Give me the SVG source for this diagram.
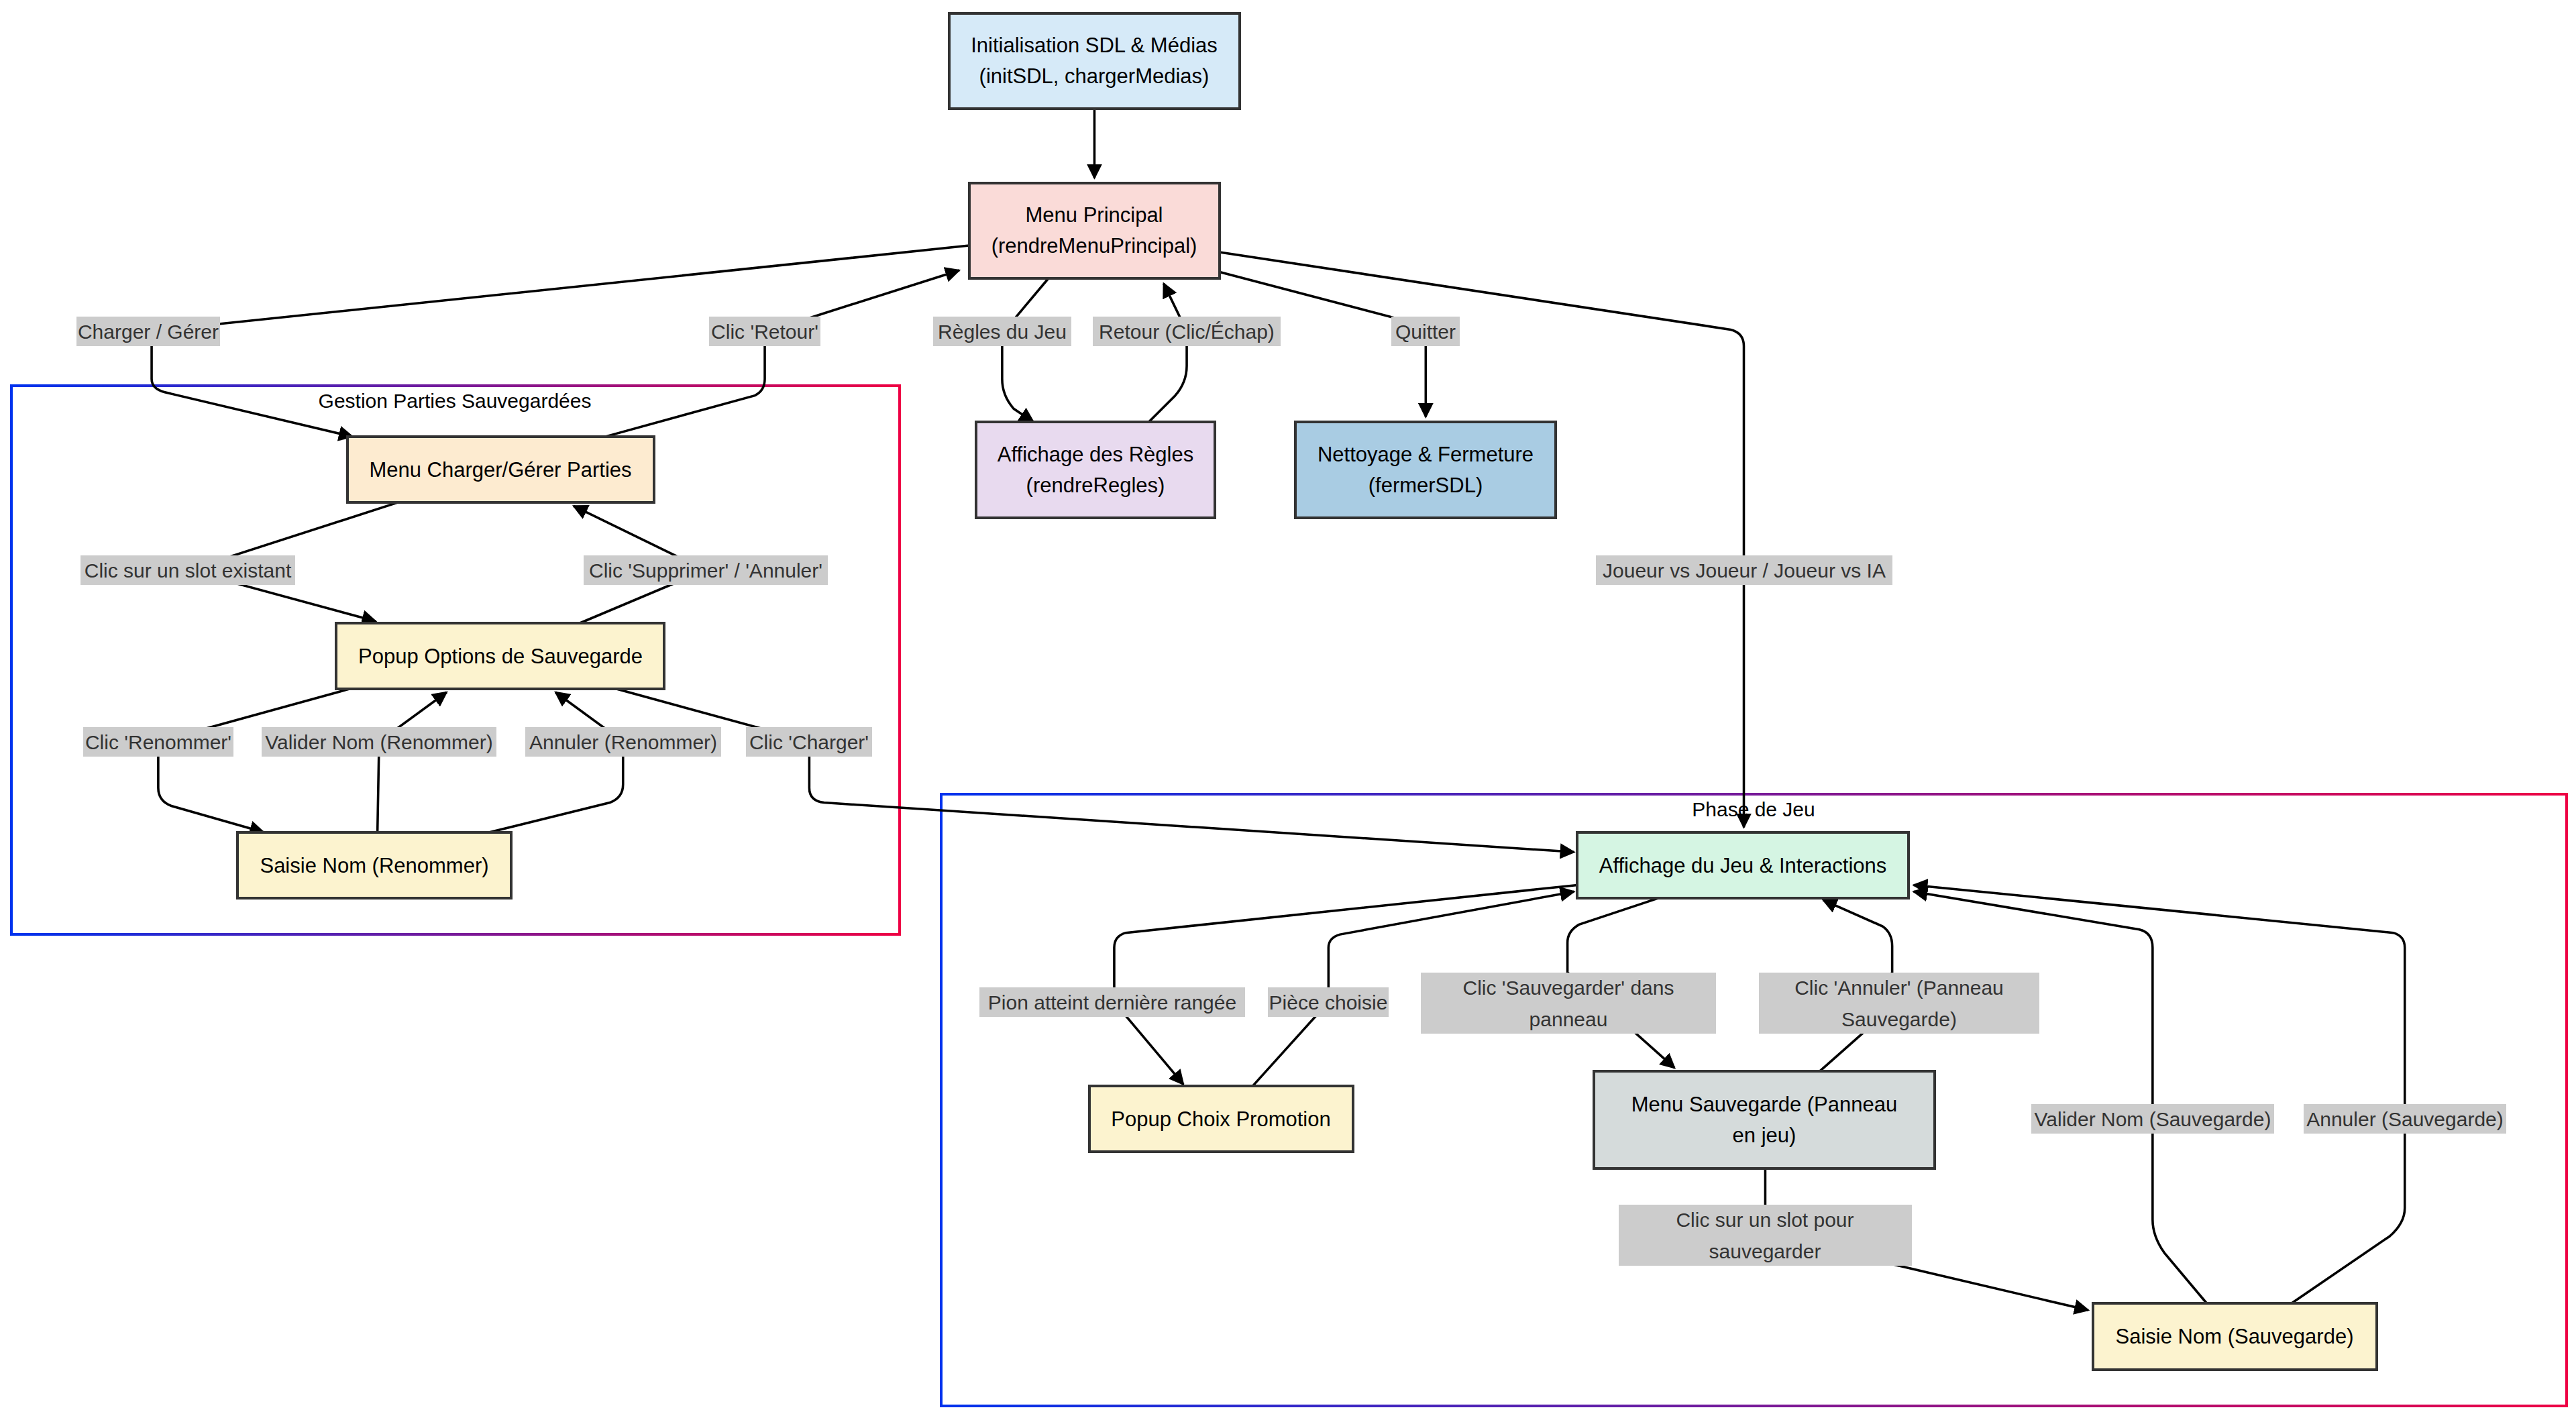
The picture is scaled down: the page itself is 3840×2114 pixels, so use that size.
<svg xmlns="http://www.w3.org/2000/svg" width="3840" height="2114" viewBox="0 0 3840 2114">
<style>
.n{stroke:#333;stroke-width:4}
.t{font-family:"Liberation Sans",Arial,sans-serif;font-size:31px;fill:#000;text-anchor:middle;dominant-baseline:central}
.l{font-family:"Liberation Sans",Arial,sans-serif;font-size:30px;fill:#333;text-anchor:middle;dominant-baseline:central}
.lb{fill:#cccccc}
.e{fill:none;stroke:#000;stroke-width:1.45}
.c{fill:none;stroke:url(#g);stroke-width:4}
</style>
<defs>
<linearGradient id="g" x1="0" y1="0" x2="1" y2="0"><stop offset="0" stop-color="#0033ee"/><stop offset="1" stop-color="#ee0044"/></linearGradient>
<marker id="a" viewBox="0 0 10 10" refX="9" refY="5" markerWidth="6.5" markerHeight="6.5" orient="auto"><path d="M0,0 L10,5 L0,10 z" fill="#000"/></marker>
</defs>
<rect width="3840" height="2114" fill="#fff"/>
<g id="clusters">
<rect class="c" x="17" y="575" width="1324" height="818"/>
<text class="t" x="678" y="597" style="font-size:30px">Gestion Parties Sauvegardées</text>
<rect class="c" x="1403" y="1184" width="2423" height="912"/>
<text class="t" x="2614" y="1206" style="font-size:30px">Phase de Jeu</text>
</g>
<g id="connectors" transform="scale(2.457)">
<path class="e" marker-end="url(#a)" d="M664,66 L664,108"/>
<path class="e" marker-end="url(#a)" d="M588,149 L100,200 Q92,201 92,209 L92,230 Q92,236 100,238 L214,265"/>
<path class="e" marker-end="url(#a)" d="M367,265 L458,240 Q464,237 464,230 L464,209 Q464,201 472,199 L582,164"/>
<path class="e" marker-end="url(#a)" d="M636,169 L610,200 Q608,203 608,210 L608,230 Q608,240 615,248 L627,256"/>
<path class="e" marker-end="url(#a)" d="M697,256 L713,240 Q720,232 720,222 L720,201 L706,172"/>
<path class="e" marker-end="url(#a)" d="M740,165 L858,196 Q865,199 865,206 L865,253"/>
<path class="e" marker-end="url(#a)" d="M740,153 L1050,200 Q1058,202 1058,210 L1058,502"/>
<path class="e" marker-end="url(#a)" d="M241,305 L114,346 L228,377"/>
<path class="e" marker-end="url(#a)" d="M352,378 L428,346 L348,307"/>
<path class="e" marker-end="url(#a)" d="M212,418 L96,450 L96,478 Q96,486 104,489 L160,505"/>
<path class="e" marker-end="url(#a)" d="M229,505 L230,450 L271,420"/>
<path class="e" marker-end="url(#a)" d="M297,505 L370,487 Q378,484 378,476 L378,450 L337,420"/>
<path class="e" marker-end="url(#a)" d="M374,418 L491,450 L491,478 Q491,486 500,487 L955,517"/>
<path class="e" marker-end="url(#a)" d="M957,537 L683,566 Q676,568 676,575 L676,608 L718,658"/>
<path class="e" marker-end="url(#a)" d="M760,659 L806,608 L806,575 Q806,569 813,567 L955,541"/>
<path class="e" marker-end="url(#a)" d="M1006,545 L958,561 Q951,565 951,572 L951,590 L1016,648"/>
<path class="e" marker-end="url(#a)" d="M1104,650 L1130,627 L1148,590 L1148,574 Q1148,566 1142,562 L1106,546"/>
<path class="e" marker-end="url(#a)" d="M1071,709 L1071,749 L1267,795"/>
<path class="e" marker-end="url(#a)" d="M1339,791 L1313,760 Q1306,750 1306,740 L1306,575 Q1306,566 1298,564 L1161,541"/>
<path class="e" marker-end="url(#a)" d="M1390,791 L1450,750 Q1459,742 1459,733 L1459,575 Q1459,568 1452,566 L1161,537"/>
</g>
<g id="labels">
<rect class="lb" x="114" y="472" width="214" height="44"/><text class="l" x="221" y="494">Charger / Gérer</text>
<rect class="lb" x="1057" y="472" width="166" height="44"/><text class="l" x="1140" y="494">Clic 'Retour'</text>
<rect class="lb" x="1391" y="472" width="206" height="44"/><text class="l" x="1494" y="494">Règles du Jeu</text>
<rect class="lb" x="1629" y="472" width="280" height="44"/><text class="l" x="1769" y="494">Retour (Clic/Échap)</text>
<rect class="lb" x="2074" y="472" width="102" height="44"/><text class="l" x="2125" y="494">Quitter</text>
<rect class="lb" x="2379" y="828" width="442" height="44"/><text class="l" x="2600" y="850">Joueur vs Joueur / Joueur vs IA</text>
<rect class="lb" x="120" y="828" width="320" height="44"/><text class="l" x="280" y="850">Clic sur un slot existant</text>
<rect class="lb" x="870" y="828" width="364" height="44"/><text class="l" x="1052" y="850">Clic 'Supprimer' / 'Annuler'</text>
<rect class="lb" x="124" y="1084" width="224" height="44"/><text class="l" x="236" y="1106">Clic 'Renommer'</text>
<rect class="lb" x="390" y="1084" width="350" height="44"/><text class="l" x="565" y="1106">Valider Nom (Renommer)</text>
<rect class="lb" x="783" y="1084" width="292" height="44"/><text class="l" x="929" y="1106">Annuler (Renommer)</text>
<rect class="lb" x="1112" y="1084" width="188" height="44"/><text class="l" x="1206" y="1106">Clic 'Charger'</text>
<rect class="lb" x="1460" y="1472" width="396" height="44"/><text class="l" x="1658" y="1494">Pion atteint dernière rangée</text>
<rect class="lb" x="1890" y="1472" width="180" height="44"/><text class="l" x="1980" y="1494">Pièce choisie</text>
<rect class="lb" x="2118" y="1450" width="440" height="91"/><text class="l" x="2338" y="1472">Clic 'Sauvegarder' dans</text><text class="l" x="2338" y="1519">panneau</text>
<rect class="lb" x="2622" y="1450" width="418" height="91"/><text class="l" x="2831" y="1472">Clic 'Annuler' (Panneau</text><text class="l" x="2831" y="1519">Sauvegarde)</text>
<rect class="lb" x="3028" y="1646" width="362" height="44"/><text class="l" x="3209" y="1668">Valider Nom (Sauvegarde)</text>
<rect class="lb" x="3434" y="1646" width="302" height="44"/><text class="l" x="3585" y="1668">Annuler (Sauvegarde)</text>
<rect class="lb" x="2413" y="1796" width="437" height="91"/><text class="l" x="2631" y="1818">Clic sur un slot pour</text><text class="l" x="2631" y="1865">sauvegarder</text>
</g>
<g id="init"><rect class="n" x="1415" y="20" width="433" height="142" fill="#d6eaf8"/><text class="t" x="1631" y="67">Initialisation SDL &amp; Médias</text><text class="t" x="1631" y="113">(initSDL, chargerMedias)</text></g>
<g id="menu"><rect class="n" x="1445" y="273" width="373" height="142" fill="#fadbd8"/><text class="t" x="1631" y="320">Menu Principal</text><text class="t" x="1631" y="366">(rendreMenuPrincipal)</text></g>
<g id="regles"><rect class="n" x="1455" y="629" width="356" height="143" fill="#e8daef"/><text class="t" x="1633" y="677">Affichage des Règles</text><text class="t" x="1633" y="723">(rendreRegles)</text></g>
<g id="fermer"><rect class="n" x="1931" y="629" width="388" height="143" fill="#a9cce3"/><text class="t" x="2125" y="677">Nettoyage &amp; Fermeture</text><text class="t" x="2125" y="723">(fermerSDL)</text></g>
<g id="charger"><rect class="n" x="518" y="651" width="457" height="98" fill="#fdebd0"/><text class="t" x="746" y="700">Menu Charger/Gérer Parties</text></g>
<g id="popupOpt"><rect class="n" x="501" y="929" width="489" height="98" fill="#fcf3cf"/><text class="t" x="746" y="978">Popup Options de Sauvegarde</text></g>
<g id="saisieRen"><rect class="n" x="354" y="1241" width="408" height="98" fill="#fcf3cf"/><text class="t" x="558" y="1290">Saisie Nom (Renommer)</text></g>
<g id="jeu"><rect class="n" x="2351" y="1241" width="494" height="98" fill="#d5f5e3"/><text class="t" x="2598" y="1290">Affichage du Jeu &amp; Interactions</text></g>
<g id="promo"><rect class="n" x="1624" y="1619" width="393" height="98" fill="#fcf3cf"/><text class="t" x="1820" y="1668">Popup Choix Promotion</text></g>
<g id="menuSauv"><rect class="n" x="2376" y="1597" width="508" height="145" fill="#d5dbdb"/><text class="t" x="2630" y="1646">Menu Sauvegarde (Panneau</text><text class="t" x="2630" y="1692">en jeu)</text></g>
<g id="saisieSauv"><rect class="n" x="3120" y="1943" width="423" height="99" fill="#fcf3cf"/><text class="t" x="3331" y="1992">Saisie Nom (Sauvegarde)</text></g>
</svg>
